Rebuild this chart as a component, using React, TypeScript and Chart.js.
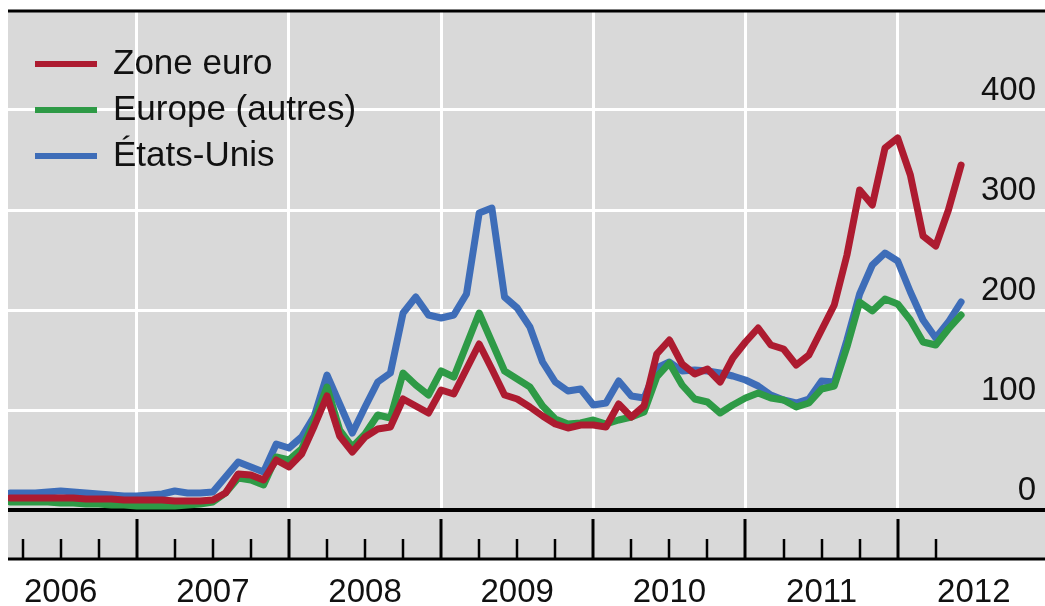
import React, { useEffect, useRef } from "react";
import { Chart, registerables } from "chart.js";

Chart.register(...registerables);

// Monthly observations (month-end), Feb 2006 – May 2012
const START_YEAR = 2006;
const START_MONTH = 2;
const MONTHS: string[] = Array.from({ length: 76 }, (_, i) => {
  const m = START_MONTH - 1 + i;
  const y = START_YEAR + Math.floor(m / 12);
  const mm = (m % 12) + 1;
  return `${y}-${String(mm).padStart(2, "0")}`;
});

const ZONE_EURO = [
  12, 12, 12, 12, 12, 12, 11, 11, 11, 10, 10,
  10, 10, 9, 9, 9, 10, 17, 36, 35, 30, 50, 43,
  56, 84, 114, 74, 58, 73, 81, 83, 111, 104, 97, 120,
  116, 141, 166, 141, 115, 111, 103, 94, 86, 82, 85, 85,
  83, 106, 93, 104, 156, 170, 146, 136, 141, 128, 152, 168,
  182, 165, 161, 145, 155, 180, 205, 255, 320, 305, 362, 372,
  335, 274, 264, 300, 345,
];

const EUROPE_AUTRES = [
  8, 8, 8, 8, 7, 7, 6, 6, 5, 5, 4,
  4, 4, 4, 5, 6, 8, 17, 32, 30, 25, 53, 50,
  61, 89, 123, 80, 63, 76, 95, 92, 137, 125, 115, 139,
  133, 165, 197, 168, 139, 131, 123, 104, 91, 86, 87, 90,
  86, 90, 93, 98, 133, 147, 125, 111, 108, 97, 105, 112,
  117, 112, 110, 103, 107, 121, 124, 163, 208, 199, 211, 206,
  190, 168, 165, 181, 195,
];

const ETATS_UNIS = [
  17, 17, 17, 18, 19, 18, 17, 16, 15, 14, 14,
  15, 16, 19, 17, 17, 18, 33, 48, 43, 38, 66, 62,
  73, 94, 135, 106, 77, 103, 128, 137, 197, 213, 195, 192,
  195, 216, 297, 302, 213, 202, 183, 148, 128, 119, 121, 105,
  107, 129, 114, 112, 142, 148, 139, 140, 139, 137, 134, 130,
  124, 115, 110, 107, 111, 129, 128, 170, 216, 245, 257, 249,
  218, 190, 172, 188, 208,
];

const SERIES_NAMES = ["Zone euro", "Europe (autres)", "États-Unis"];
const SERIES_COLORS = ["#AD1B30", "#2E9A46", "#3E6DB8"];
const Y_TICKS = [0, 100, 200, 300, 400];
const YEAR_LABELS = ["2006", "2007", "2008", "2009", "2010", "2011", "2012"];
const YEAR_GRID = [2007, 2008, 2009, 2010, 2011, 2012];
const X_MIN = 2006.154;
const X_MAX = 2012.968;
const QUARTER_FIRST = 2006.25;
const QUARTER_LAST = 2012.25;

const monthToX = (s: string) => {
  const [y, m] = s.split("-").map(Number);
  return y + m / 12;
};

const FONT = "'Liberation Sans', Arial, Helvetica, sans-serif";
const GRAY = "#D9D9D9";

const decorPlugin = {
  id: "decor",
  beforeDraw(chart: any) {
    const { ctx, chartArea } = chart;
    ctx.save();
    ctx.fillStyle = GRAY;
    ctx.fillRect(chartArea.left, chartArea.top, chartArea.right - chartArea.left, chartArea.bottom + 49 - chartArea.top);
    ctx.restore();
  },
  beforeDatasetsDraw(chart: any) {
    const { ctx, chartArea, scales } = chart;
    const x = scales.x;
    const y = scales.y;
    ctx.save();
    ctx.strokeStyle = "#000";
    ctx.lineWidth = 3;
    ctx.beginPath();
    ctx.moveTo(chartArea.left, chartArea.top + 1);
    ctx.lineTo(chartArea.right, chartArea.top + 1);
    ctx.stroke();
    const y0 = y.getPixelForValue(0);
    ctx.lineWidth = 4;
    ctx.beginPath();
    ctx.moveTo(chartArea.left, y0);
    ctx.lineTo(chartArea.right, y0);
    ctx.stroke();
    const bandBottom = chartArea.bottom + 49;
    ctx.lineWidth = 3;
    ctx.beginPath();
    ctx.moveTo(chartArea.left, bandBottom);
    ctx.lineTo(chartArea.right, bandBottom);
    ctx.stroke();
    for (let q = QUARTER_FIRST; q <= QUARTER_LAST + 1e-6; q += 0.25) {
      const px = Math.round(x.getPixelForValue(q));
      const major = Math.abs(q - Math.round(q)) < 1e-6;
      ctx.lineWidth = major ? 3 : 2.5;
      ctx.beginPath();
      ctx.moveTo(px, bandBottom);
      ctx.lineTo(px, bandBottom - (major ? 40 : 20));
      ctx.stroke();
    }
    ctx.restore();
  },
  afterDatasetsDraw(chart: any) {
    const { ctx, chartArea, scales } = chart;
    const x = scales.x;
    const y = scales.y;
    ctx.save();
    ctx.fillStyle = "#111";
    ctx.font = `33px ${FONT}`;
    ctx.textAlign = "center";
    ctx.textBaseline = "alphabetic";
    YEAR_LABELS.forEach((lab) => {
      const px = x.getPixelForValue(Number(lab) + 0.5);
      ctx.fillText(lab, px, 602);
    });
    ctx.textAlign = "right";
    Y_TICKS.forEach((v) => {
      const py = y.getPixelForValue(v);
      ctx.fillText(String(v), chartArea.right - 9, py - 10);
    });
    ctx.font = `35px ${FONT}`;
    ctx.textAlign = "left";
    SERIES_NAMES.forEach((name, i) => {
      const base = 74 + i * 46;
      ctx.strokeStyle = SERIES_COLORS[i];
      ctx.lineWidth = 6;
      ctx.lineCap = "butt";
      ctx.beginPath();
      ctx.moveTo(35, base - 10);
      ctx.lineTo(97, base - 10);
      ctx.stroke();
      ctx.fillStyle = "#111";
      ctx.fillText(name, 113, base);
    });
    ctx.restore();
  },
};

export default function App() {
  const ref = useRef<HTMLCanvasElement | null>(null);

  useEffect(() => {
    if (!ref.current) return;
    const xs = MONTHS.map(monthToX);
    const mk = (vals: number[]) => vals.map((v, i) => ({ x: xs[i], y: v }));
    const chart = new Chart(ref.current, {
      type: "line",
      data: {
        datasets: [
          { label: SERIES_NAMES[0], data: mk(ZONE_EURO), borderColor: SERIES_COLORS[0] },
          { label: SERIES_NAMES[1], data: mk(EUROPE_AUTRES), borderColor: SERIES_COLORS[1] },
          { label: SERIES_NAMES[2], data: mk(ETATS_UNIS), borderColor: SERIES_COLORS[2] },
        ].map((d) => ({
          ...d,
          borderWidth: 7,
          pointRadius: 0,
          tension: 0,
          fill: false,
          borderJoinStyle: "round" as const,
          borderCapStyle: "round" as const,
        })),
      },
      options: {
        animation: false,
        responsive: false,
        devicePixelRatio: 1,
        layout: { padding: { left: 8, right: 0, top: 10, bottom: 96 } },
        plugins: { legend: { display: false }, tooltip: { enabled: false } },
        scales: {
          x: {
            type: "linear",
            min: X_MIN,
            max: X_MAX,
            afterBuildTicks: (s: any) => {
              s.ticks = YEAR_GRID.map((v) => ({ value: v }));
            },
            afterFit: (s: any) => {
              s.height = 0;
            },
            grid: { color: "#FFFFFF", lineWidth: 3, drawTicks: false },
            border: { display: false },
            ticks: { display: false },
          },
          y: {
            position: "right",
            min: 0,
            max: 500,
            afterBuildTicks: (s: any) => {
              s.ticks = Y_TICKS.filter((v) => v > 0).map((v) => ({ value: v }));
            },
            afterFit: (s: any) => {
              s.width = 0;
            },
            grid: { color: "#FFFFFF", lineWidth: 3, drawTicks: false },
            border: { display: false },
            ticks: { display: false },
          },
        },
      },
      plugins: [decorPlugin],
    });
    return () => chart.destroy();
  }, []);

  return (
    <div style={{ position: "absolute", left: 0, top: 0, width: 1045, height: 606, background: "#fff" }}>
      <canvas ref={ref} width={1045} height={606} style={{ display: "block" }} />
    </div>
  );
}
